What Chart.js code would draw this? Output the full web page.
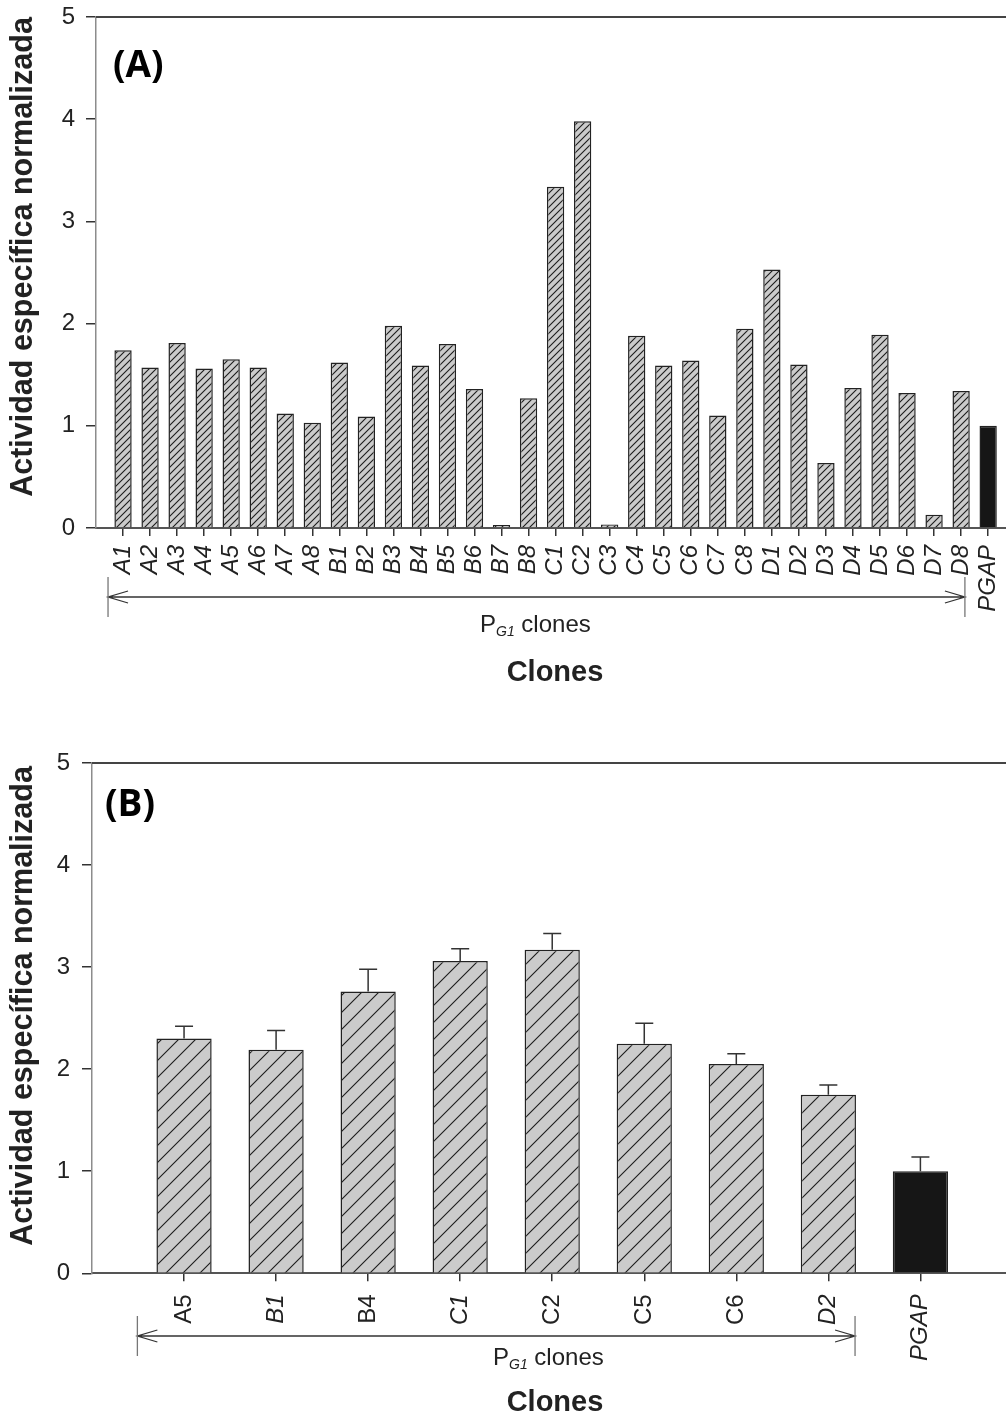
<!DOCTYPE html>
<html>
<head>
<meta charset="utf-8">
<script src="https://cdn.jsdelivr.net/npm/chart.js@4.4.0/dist/chart.umd.min.js"></script>
<style>
  html, body { margin: 0; padding: 0; background: #fff; }
  #wrap { position: relative; width: 1006px; height: 1416px; }
  canvas { position: absolute; left: 0; }
</style>
</head>
<body>
<div id="wrap">
  <canvas id="chartA" width="1006" height="708" style="top:0"></canvas>
  <canvas id="chartB" width="1006" height="708" style="top:708px"></canvas>
</div>
<script>
// ---- data ----
const clonesA = ['A1','A2','A3','A4','A5','A6','A7','A8',
                 'B1','B2','B3','B4','B5','B6','B7','B8',
                 'C1','C2','C3','C4','C5','C6','C7','C8',
                 'D1','D2','D3','D4','D5','D6','D7','D8','PGAP'];
const activityA = [1.74,1.57,1.81,1.56,1.65,1.57,1.12,1.03,
                   1.62,1.09,1.98,1.59,1.80,1.36,0.03,1.27,
                   3.34,3.98,0.035,1.88,1.59,1.64,1.10,1.95,
                   2.53,1.60,0.635,1.37,1.89,1.32,0.13,1.34,1.00];

const clonesB = ['A5','B1','B4','C1','C2','C5','C6','D2','PGAP'];
const activityB = [2.30,2.19,2.76,3.06,3.17,2.25,2.05,1.75,1.00];
const errorB = [0.12,0.19,0.22,0.12,0.16,0.20,0.10,0.095,0.14];
const italicB = ['B1','C1','D2','PGAP'];

const yTicks = [0,1,2,3,4,5];
const yTitle = 'Actividad específica normalizada';
const xTitle = 'Clones';

const FONT = "'Liberation Sans', Arial, sans-serif";

function hatch(step) {
  const c = document.createElement('canvas');
  c.width = c.height = step;
  const g = c.getContext('2d');
  g.fillStyle = '#cbcbcb';
  g.fillRect(0, 0, step, step);
  g.strokeStyle = '#1c1c1c';
  g.lineWidth = 1.1;
  g.beginPath();
  g.moveTo(0, step); g.lineTo(step, 0);
  g.moveTo(-2, 2); g.lineTo(2, -2);
  g.moveTo(step - 2, step + 2); g.lineTo(step + 2, step - 2);
  g.stroke();
  return document.createElement('canvas').getContext('2d').createPattern(c, 'repeat');
}

function decor(o) {
  return {
    id: 'decor',
    afterDatasetsDraw(chart) {
      if (!o.errors) return;
      const {ctx, scales: {y}} = chart;
      const meta = chart.getDatasetMeta(0);
      ctx.save();
      ctx.strokeStyle = '#333';
      ctx.lineWidth = 1.5;
      meta.data.forEach((bar, i) => {
        const top = y.getPixelForValue(o.values[i] + o.errors[i]);
        ctx.beginPath();
        ctx.moveTo(bar.x, bar.y);
        ctx.lineTo(bar.x, top);
        ctx.moveTo(bar.x - 9, top);
        ctx.lineTo(bar.x + 9, top);
        ctx.stroke();
      });
      ctx.restore();
    },
    afterDraw(chart) {
      const {ctx, chartArea: a, scales: {x}} = chart;
      ctx.save();
      // top frame line
      ctx.strokeStyle = '#444';
      ctx.lineWidth = 2;
      ctx.beginPath();
      ctx.moveTo(a.left, a.top);
      ctx.lineTo(a.right, a.top);
      ctx.stroke();

      // bracket arrow for the PG1 clones
      const x0 = x.getPixelForValue(o.fromVal);
      const x1 = x.getPixelForValue(o.toVal);
      ctx.strokeStyle = '#333';
      ctx.lineWidth = 1.3;
      ctx.beginPath();
      ctx.moveTo(x0, o.lineY); ctx.lineTo(x1, o.lineY);
      ctx.moveTo(x0 + 20, o.lineY - 6); ctx.lineTo(x0, o.lineY); ctx.lineTo(x0 + 20, o.lineY + 6);
      ctx.moveTo(x1 - 20, o.lineY - 6); ctx.lineTo(x1, o.lineY); ctx.lineTo(x1 - 20, o.lineY + 6);
      ctx.stroke();
      ctx.strokeStyle = '#777';
      ctx.beginPath();
      ctx.moveTo(x0, o.lineY - 20); ctx.lineTo(x0, o.lineY + 20);
      ctx.moveTo(x1, o.lineY - 20); ctx.lineTo(x1, o.lineY + 20);
      ctx.stroke();

      // P_G1 clones
      ctx.fillStyle = '#222';
      ctx.textBaseline = 'alphabetic';
      ctx.textAlign = 'left';
      ctx.font = '24px ' + FONT;
      ctx.fillText('P', o.textX, o.textY);
      let tx = o.textX + ctx.measureText('P').width;
      ctx.font = 'italic 14px ' + FONT;
      ctx.fillText('G1', tx, o.textY + 4);
      tx += ctx.measureText('G1').width;
      ctx.font = '24px ' + FONT;
      ctx.fillText(' clones', tx, o.textY);

      // axis titles
      ctx.font = 'bold 29px ' + FONT;
      ctx.textAlign = 'center';
      ctx.fillText(xTitle, 555, o.titleY);
      ctx.save();
      ctx.translate(32, o.yTitleY);
      ctx.rotate(-Math.PI / 2);
      ctx.font = 'bold 30.5px ' + FONT;
      ctx.fillText(yTitle, 0, 0);
      ctx.restore();

      // panel label
      ctx.textAlign = 'left';
      ctx.fillStyle = '#000';
      ctx.font = "bold 37px 'Open Sans', sans-serif";
      ctx.fillText(o.panel, o.panelX, o.panelY);
      ctx.restore();
    }
  };
}

function makeChart(id, labels, values, opt) {
  return new Chart(document.getElementById(id), {
    type: 'bar',
    data: {
      datasets: [{
        data: values.map((v, i) => ({x: i, y: v})),
        backgroundColor: labels.map(l => l === 'PGAP' ? '#161616' : opt.pattern),
        borderColor: '#222',
        borderWidth: 1.5,
        barPercentage: opt.barPct,
        categoryPercentage: 1
      }]
    },
    options: {
      responsive: false,
      animation: false,
      layout: {padding: {top: opt.padTop, left: 0, right: 0, bottom: 0}},
      plugins: {legend: {display: false}, tooltip: {enabled: false}},
      scales: {
        x: {
          type: 'linear',
          offset: false,
          min: -1,
          max: opt.xMax,
          afterBuildTicks: s => { s.ticks = labels.map((_, i) => ({value: i})); },
          afterFit: s => { s.height = opt.xHeight; s.paddingLeft = 0; s.paddingRight = 0; },
          ticks: {
            autoSkip: false,
            minRotation: 90,
            maxRotation: 90,
            padding: opt.xPad,
            color: '#222',
            font: opt.xFont,
            callback: v => labels[v]
          },
          grid: {offset: false, drawOnChartArea: false, tickLength: 8, color: '#333', lineWidth: 1.5},
          border: {color: '#555', width: 2}
        },
        y: {
          min: 0,
          max: 5,
          afterBuildTicks: s => { s.ticks = yTicks.map(v => ({value: v})); },
          afterFit: s => { s.width = opt.yWidth; s.paddingTop = 0; s.paddingBottom = 0; },
          ticks: {padding: opt.yPad, color: '#222', font: {family: FONT, size: 24}},
          grid: {drawOnChartArea: false, tickLength: 10, color: '#333', lineWidth: 1.5},
          border: {color: '#8c8c8c', width: 1.5}
        }
      }
    },
    plugins: [decor(opt.decor)]
  });
}

makeChart('chartA', clonesA, activityA, {
  pattern: hatch(7), barPct: 0.64, padTop: 17, xMax: 32.66, xHeight: 180,
  xPad: 9, yWidth: 96, yPad: 11,
  xFont: {family: FONT, size: 24, style: 'italic'},
  decor: {values: activityA, fromVal: -0.555, toVal: 31.14, lineY: 597,
          textX: 480, textY: 632, titleY: 681, yTitleY: 257,
          panel: '(A)', panelX: 113, panelY: 77}
});

makeChart('chartB', clonesB, activityB, {
  pattern: hatch(17), barPct: 0.6, padTop: 55, xMax: 8.93, xHeight: 142.7,
  xPad: 13, yWidth: 92, yPad: 12,
  xFont: ctx => ({family: FONT, size: 24,
                  style: italicB.includes(clonesB[ctx.tick ? ctx.tick.value : 0]) ? 'italic' : 'normal'}),
  decor: {values: activityB, errors: errorB, fromVal: -0.507, toVal: 7.29, lineY: 628,
          textX: 493, textY: 657, titleY: 703, yTitleY: 298,
          panel: '(B)', panelX: 105, panelY: 108}
});
</script>
</body>
</html>
